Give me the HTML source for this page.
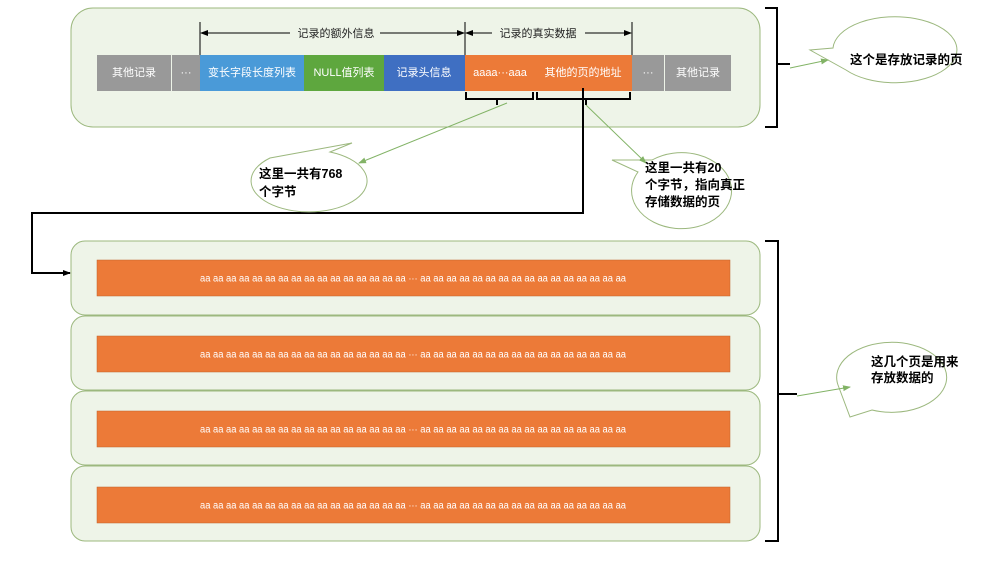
<!DOCTYPE html>
<html><head><meta charset="utf-8"><style>
body{margin:0;background:#fff}
svg{display:block}
text{font-family:"Liberation Sans","Noto Sans CJK SC",sans-serif}
.c{fill:#fff;font-size:11px;text-anchor:middle;dominant-baseline:central}
.b{fill:#000;font-size:12.5px;font-weight:bold}
.t{fill:#fff;font-size:10px;dominant-baseline:central}
</style></head><body>
<svg width="992" height="563" viewBox="0 0 992 563" xmlns="http://www.w3.org/2000/svg">
<defs>
<marker id="a" markerWidth="8" markerHeight="8" refX="7" refY="4" orient="auto" markerUnits="userSpaceOnUse"><path d="M0,1 L8,4 L0,7z" fill="#000"/></marker>
<marker id="g" markerWidth="8" markerHeight="8" refX="7" refY="4" orient="auto" markerUnits="userSpaceOnUse"><path d="M0,1 L8,4 L0,7z" fill="#82b366"/></marker>
</defs>
<rect x="71" y="8" width="689" height="119" rx="22" fill="#eef4e8" stroke="#9cb87e"/>
<g>
<rect x="97" y="55" width="74" height="36" fill="#999"/><text class="c" x="134" y="73">其他记录</text>
<rect x="172" y="55" width="28" height="36" fill="#999"/><text class="c" x="186" y="73">···</text>
<rect x="200" y="55" width="104" height="36" fill="#4a9ad8"/><text class="c" x="252" y="73">变长字段长度列表</text>
<rect x="304" y="55" width="80" height="36" fill="#5ea73e"/><text class="c" x="344" y="73">NULL值列表</text>
<rect x="384" y="55" width="81" height="36" fill="#3f6fc2"/><text class="c" x="424" y="73">记录头信息</text>
<rect x="465" y="55" width="70" height="36" fill="#ec7a38"/><text class="c" x="500" y="73">aaaa···aaa</text>
<rect x="535" y="55" width="97" height="36" fill="#ec7a38"/><text class="c" x="583" y="73">其他的页的地址</text>
<rect x="632" y="55" width="32" height="36" fill="#999"/><text class="c" x="648" y="73">···</text>
<rect x="665" y="55" width="66" height="36" fill="#999"/><text class="c" x="698" y="73">其他记录</text>
</g>
<g stroke="#000" stroke-width="1" fill="none">
<line x1="200" y1="22" x2="200" y2="55"/><line x1="465" y1="22" x2="465" y2="55"/><line x1="632" y1="22" x2="632" y2="55"/>
<line x1="290" y1="33" x2="201" y2="33" marker-end="url(#a)"/><line x1="380" y1="33" x2="464" y2="33" marker-end="url(#a)"/>
<line x1="492" y1="33" x2="466" y2="33" marker-end="url(#a)"/><line x1="585" y1="33" x2="631" y2="33" marker-end="url(#a)"/>
</g>
<text x="336" y="37" font-size="11" text-anchor="middle" fill="#222">记录的额外信息</text>
<text x="538" y="37" font-size="11" text-anchor="middle" fill="#222">记录的真实数据</text>
<g stroke="#000" stroke-width="2" fill="none">
<path d="M466,92 V99 H497 V105 M497,99 H533 V92"/>
<path d="M537,92 V99 H586 V105 M586,99 H630 V92"/>
<path d="M765,8 H777 V64 H790 M777,64 V127 H765"/>
<path d="M765,241 H778 V394 H797 M778,394 V541 H765"/>
<path d="M583,88 V213 H32 V273 H70" marker-end="url(#a)"/>
</g>
<g fill="#eef4e8" stroke="#9cb87e">
<rect x="71" y="241" width="689" height="74" rx="14"/>
<rect x="71" y="316" width="689" height="74" rx="14"/>
<rect x="71" y="391" width="689" height="74" rx="14"/>
<rect x="71" y="466" width="689" height="75" rx="14"/>
</g>
<g fill="#ec7a38" stroke="#c0602a" stroke-width="0.5">
<rect x="97" y="260" width="633" height="36"/><rect x="97" y="336" width="633" height="36"/>
<rect x="97" y="411" width="633" height="36"/><rect x="97" y="487" width="633" height="36"/>
</g>
<text class="t" x="200" y="279" textLength="426" lengthAdjust="spacingAndGlyphs">aa aa aa aa aa aa aa aa aa aa aa aa aa aa aa aa ··· aa aa aa aa aa aa aa aa aa aa aa aa aa aa aa aa</text>
<text class="t" x="200" y="355" textLength="426" lengthAdjust="spacingAndGlyphs">aa aa aa aa aa aa aa aa aa aa aa aa aa aa aa aa ··· aa aa aa aa aa aa aa aa aa aa aa aa aa aa aa aa</text>
<text class="t" x="200" y="430" textLength="426" lengthAdjust="spacingAndGlyphs">aa aa aa aa aa aa aa aa aa aa aa aa aa aa aa aa ··· aa aa aa aa aa aa aa aa aa aa aa aa aa aa aa aa</text>
<text class="t" x="200" y="506" textLength="426" lengthAdjust="spacingAndGlyphs">aa aa aa aa aa aa aa aa aa aa aa aa aa aa aa aa ··· aa aa aa aa aa aa aa aa aa aa aa aa aa aa aa aa</text>
<g fill="#fff" stroke="#9cb87e">
<path d="M270,158 A58,31 0 1 0 330,152 L352,143 Z"/>
<path d="M652,160 A50,38 0 1 1 638,172 L612,160 Z" />
<path d="M833,48 A62,33 0 1 1 846,70 L810,50 Z"/>
<path d="M838,385 A55,35 0 1 1 872,410 L850,417 Z"/>
</g>
<g stroke="#82b366" stroke-width="1" fill="none">
<line x1="507" y1="103" x2="359" y2="163" marker-end="url(#g)"/>
<line x1="586" y1="105" x2="646" y2="163" marker-end="url(#g)"/>
<line x1="790" y1="68" x2="828" y2="60" marker-end="url(#g)"/>
<line x1="797" y1="396" x2="850" y2="387" marker-end="url(#g)"/>
</g>
<text class="b" x="259" y="178">这里一共有768</text><text class="b" x="259" y="196">个字节</text>
<text class="b" x="645" y="172">这里一共有20</text><text class="b" x="645" y="189">个字节，指向真正</text><text class="b" x="645" y="206">存储数据的页</text>
<text class="b" x="850" y="64">这个是存放记录的页</text>
<text class="b" x="871" y="366">这几个页是用来</text><text class="b" x="871" y="382">存放数据的</text>
</svg>
</body></html>
